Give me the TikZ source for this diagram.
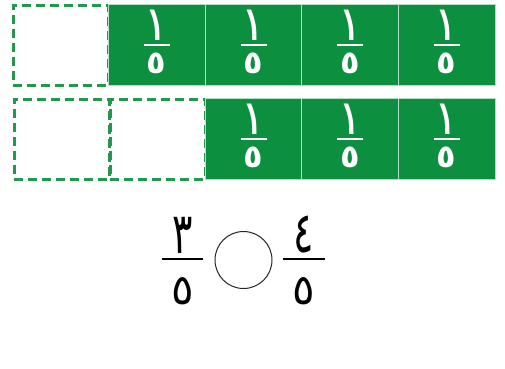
\documentclass[tikz,border=0pt]{standalone}
\usepackage{fontspec}
\newfontfamily\arfont[Script=Arabic]{DejaVu Sans}
\usetikzlibrary{calc}
\definecolor{gr}{RGB}{12,143,62}
\definecolor{dgr}{RGB}{35,150,80}
\newcommand\tallglyph[1]{\scalebox{1}[1.5]{#1}}
\begin{document}
\begin{tikzpicture}[x=1pt,y=-1pt,
  gbox/.style={fill=gr, draw=white!70!gr, line width=0.6pt, minimum width=97pt, minimum height=81pt, inner sep=0pt, outer sep=0pt},
  dbox/.style={draw=dgr, dash pattern=on 9pt off 5pt, line width=3pt, minimum width=95pt, minimum height=80pt, inner sep=0pt, outer sep=0pt},
  wnum/.style={text=white, font=\arfont\fontsize{48}{48}\selectfont, inner sep=0pt},
  wden/.style={text=white, font=\arfont\bfseries\fontsize{32}{32}\selectfont, inner sep=0pt},
  bnum/.style={text=black, font=\arfont\fontsize{38}{38}\selectfont, inner sep=0pt},
  bden/.style={text=black, font=\arfont\fontsize{42}{42}\selectfont, inner sep=0pt},
  wbar/.style={draw=white, line width=2pt},
  bbar/.style={draw=black, line width=1.6pt}]
\useasboundingbox (0,0) rectangle (505,368);
\fill[white] (0,0) rectangle (505,368);
% row 1
\node[dbox] (d1) at (60.5,45) {};
\foreach \i/\x in {1/156.5,2/253.5,3/350,4/446.5}{
  \node[gbox] (a\i) at (\x,45) {};
  \node[wnum] (a\i n) at ($(a\i.center)+(0,-20)$) {١};
  \node[wden] (a\i d) at ($(a\i.center)+(0,18)$) {٥};
  \draw[wbar] ($(a\i.center)+(-13,0)$) -- ($(a\i.center)+(13,0)$);
}
% row 2
\node[dbox] (e1) at (61.5,139) {};
\node[dbox] (e2) at (157.5,139) {};
\foreach \i/\x in {1/253.5,2/350,3/446.5}{
  \node[gbox] (b\i) at (\x,139) {};
  \node[wnum] (b\i n) at ($(b\i.center)+(0,-20)$) {١};
  \node[wden] (b\i d) at ($(b\i.center)+(0,18)$) {٥};
  \draw[wbar] ($(b\i.center)+(-13,0)$) -- ($(b\i.center)+(13,0)$);
}
% comparison
\coordinate (fl) at (182.5,259);
\coordinate (fr) at (304,259);
\node[bnum] (ln) at ($(fl)+(0,-24)$) {\tallglyph{٣}};
\node[bden] (ld) at ($(fl)+(0,32)$) {٥};
\draw[bbar] ($(fl)+(-20.5,0)$) -- ($(fl)+(20.5,0)$);
\node[draw=black!85, line width=1pt, circle, minimum size=57pt, inner sep=0pt] (c) at (243.5,260) {};
\node[bnum] (rn) at ($(fr)+(0,-24)$) {\tallglyph{٤}};
\node[bden] (rd) at ($(fr)+(0,32)$) {٥};
\draw[bbar] ($(fr)+(-21,0)$) -- ($(fr)+(21,0)$);
\end{tikzpicture}
\end{document}
